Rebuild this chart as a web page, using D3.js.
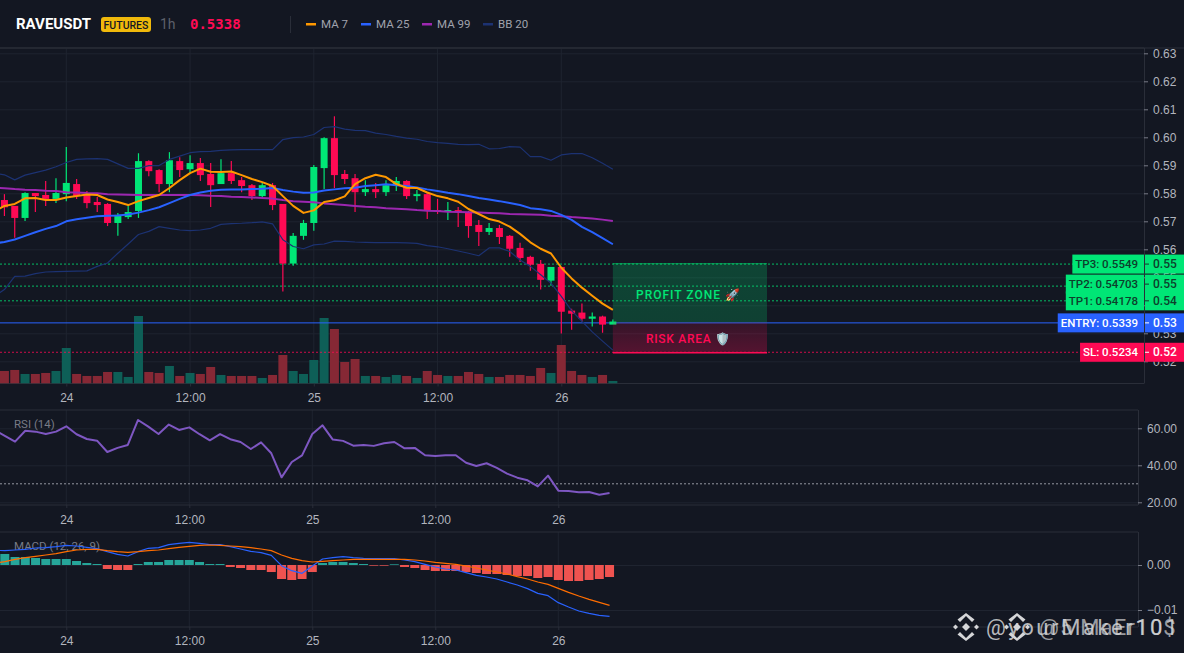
<html>
<head>
<script src="https://d3js.org/d3.v7.min.js"></script>
<style>
  html, body { margin: 0; background: #131722; overflow: hidden; }
  svg { display: block; font-family: Roboto, "Noto Sans", sans-serif; }
  .tick text { fill: #b2b5be; font-size: 12px; font-weight: 500; }
</style>
</head>
<body>
<div id="chartDiv"></div>
<script>
// candles, index 0 is the first one on the left
const candleOpen = [.5776,.5755,.5712,.5801,.5794,.5780,.5797,.5833,.5794,.5769,.5762,.5694,.5715,.5737,.5915,.5883,.5833,.5915,.5886,.5908,.5869,.5833,.5872,.5847,.5829,.5790,.5829,.5762,.5549,.5648,.5694,.5890,.5997,.5869,.5854,.5804,.5815,.5804,.5829,.5844,.5790,.5797,.5740,.5737,.5740,.5733,.5687,.5662,.5676,.5648,.5605,.5573,.5548,.5488,.5537,.5381,.5374,.5352,.5360,.5331];
const candleClose = [.5750,.5712,.5801,.5790,.5780,.5801,.5837,.5790,.5765,.5758,.5694,.5723,.5733,.5915,.5879,.5833,.5918,.5883,.5908,.5865,.5829,.5872,.5844,.5826,.5790,.5829,.5758,.5549,.5648,.5694,.5894,.5997,.5865,.5851,.5804,.5815,.5804,.5829,.5844,.5790,.5797,.5740,.5737,.5740,.5733,.5683,.5662,.5676,.5644,.5602,.5569,.5545,.5491,.5537,.5377,.5370,.5352,.5360,.5331,.5342];
const candleHigh = [.5797,.5755,.5804,.5801,.5844,.5854,.5965,.5851,.5808,.5787,.5765,.5730,.5758,.5943,.5918,.5886,.5947,.5929,.5936,.5926,.5908,.5922,.5915,.5858,.5833,.5837,.5837,.5762,.5658,.5705,.5901,.6000,.6075,.5883,.5869,.5847,.5837,.5847,.5858,.5847,.5812,.5801,.5780,.5769,.5751,.5737,.5705,.5694,.5687,.5651,.5623,.5577,.5562,.5537,.5537,.5388,.5406,.5374,.5363,.5349];
const candleLow = [.5719,.5641,.5701,.5733,.5755,.5765,.5772,.5780,.5747,.5733,.5683,.5648,.5708,.5712,.5861,.5804,.5804,.5858,.5872,.5844,.5751,.5833,.5833,.5804,.5776,.5787,.5740,.5449,.5541,.5634,.5666,.5815,.5819,.5833,.5733,.5790,.5783,.5790,.5808,.5780,.5772,.5708,.5726,.5705,.5680,.5641,.5612,.5651,.5619,.5573,.5555,.5523,.5456,.5470,.5299,.5313,.5342,.5324,.5302,.5335];
const volume = [37,40,28,28,31,37,106,28,22,22,34,34,19,202,34,31,52,22,31,28,49,25,22,22,22,16,25,85,37,28,70,196,163,64,73,22,22,19,25,22,16,37,25,22,22,34,28,19,19,25,25,22,46,31,115,37,25,19,25,7];

// line series start one bar earlier, just off the left edge
const ma7 = [.5734,.5755,.5762,.5782,.5783,.5776,.5776,.5785,.5790,.5796,.5794,.5778,.5769,.5758,.5772,.5783,.5794,.5819,.5847,.5872,.5888,.5877,.5876,.5878,.5865,.5851,.5840,.5826,.5790,.5755,.5730,.5739,.5769,.5775,.5789,.5833,.5854,.5866,.5858,.5833,.5820,.5819,.5803,.5790,.5782,.5770,.5744,.5726,.5708,.5699,.5681,.5655,.5625,.5602,.5585,.5534,.5496,.5463,.5434,.5406,.5384];
const ma25 = [.5621,.5626,.5635,.5648,.5661,.5673,.5683,.5700,.5707,.5713,.5718,.5720,.5721,.5724,.5731,.5740,.5750,.5765,.5780,.5794,.5803,.5809,.5813,.5814,.5814,.5815,.5816,.5819,.5812,.5806,.5802,.5803,.5810,.5814,.5818,.5820,.5826,.5829,.5832,.5829,.5826,.5821,.5814,.5808,.5802,.5797,.5790,.5783,.5778,.5772,.5765,.5758,.5747,.5743,.5737,.5723,.5705,.5680,.5661,.5640,.5618];
const ma99 = [.5820,.5818,.5815,.5813,.5812,.5809,.5808,.5804,.5803,.5801,.5800,.5797,.5796,.5795,.5794,.5794,.5794,.5794,.5794,.5794,.5793,.5791,.5790,.5788,.5787,.5785,.5783,.5781,.5776,.5772,.5770,.5768,.5764,.5761,.5758,.5755,.5752,.5750,.5747,.5745,.5743,.5740,.5738,.5737,.5734,.5733,.5732,.5731,.5730,.5729,.5726,.5725,.5724,.5723,.5720,.5718,.5715,.5713,.5710,.5706,.5701];
const bbUpper = [.5871,.5866,.5848,.5865,.5874,.5883,.5895,.5910,.5921,.5923,.5924,.5921,.5905,.5889,.5889,.5899,.5899,.5921,.5933,.5945,.5949,.5950,.5953,.5955,.5956,.5956,.5956,.5956,.5992,.5999,.6001,.6010,.6035,.6038,.6029,.6025,.6024,.6015,.6010,.6003,.5997,.5993,.5985,.5981,.5978,.5975,.5974,.5975,.5959,.5960,.5967,.5965,.5931,.5931,.5918,.5937,.5942,.5942,.5927,.5907,.5886];
const bbLower = [.5432,.5456,.5503,.5504,.5513,.5519,.5520,.5521,.5522,.5523,.5539,.5551,.5586,.5619,.5653,.5664,.5681,.5675,.5669,.5667,.5669,.5675,.5689,.5692,.5693,.5695,.5698,.5691,.5634,.5610,.5602,.5616,.5619,.5629,.5628,.5626,.5625,.5624,.5624,.5624,.5623,.5621,.5613,.5609,.5602,.5594,.5586,.5577,.5605,.5605,.5592,.5562,.5539,.5509,.5479,.5432,.5381,.5343,.5305,.5272,.5240];
const rsi = [59.1,55.9,52.8,58.7,58.2,56.9,58.2,61.1,56.8,54.2,53.3,47.2,49.4,51.0,64.5,60.9,56.9,62.0,59.1,60.5,56.8,53.5,56.9,54.1,52.6,48.8,52.4,46.5,33.5,41.8,45.4,56.9,61.6,53.9,53.2,50.6,51.0,50.5,51.9,52.6,49.2,49.4,45.4,45.0,45.4,45.4,41.4,39.6,41.1,38.6,35.5,33.3,31.9,28.6,34.4,26.3,26.1,25.4,25.6,24.1,25.0];
const macdLine = [.00326,.00319,.00333,.00348,.00378,.00385,.00408,.00437,.00422,.00393,.00363,.00296,.00237,.00200,.00296,.00371,.00385,.00452,.00482,.00504,.00482,.00452,.00452,.00408,.00356,.00304,.00274,.00215,-.00015,-.00126,-.00185,-.00022,.00133,.00163,.00185,.00163,.00148,.00141,.00141,.00141,.00111,.00074,.00015,-.00044,-.00089,-.00111,-.00170,-.00230,-.00267,-.00311,-.00378,-.00445,-.00526,-.00630,-.00682,-.00837,-.00934,-.01023,-.01074,-.01119,-.01141];
const macdSignal = [.00037,.00074,.00126,.00163,.00193,.00222,.00252,.00296,.00333,.00348,.00348,.00319,.00296,.00282,.00296,.00319,.00333,.00363,.00393,.00415,.00437,.00445,.00437,.00422,.00408,.00385,.00356,.00319,.00222,.00148,.00096,.00067,.00082,.00096,.00111,.00126,.00126,.00126,.00126,.00126,.00126,.00111,.00089,.00059,.00037,.00015,-.00022,-.00067,-.00111,-.00156,-.00200,-.00259,-.00311,-.00378,-.00430,-.00519,-.00608,-.00689,-.00763,-.00830,-.00897];
const macdHist = [.00245,.00178,.00178,.00156,.00133,.00133,.00133,.00089,.00044,.00022,-.00089,-.00111,-.00111,.00022,.00067,.00067,.00111,.00111,.00111,.00067,.00022,.00022,-.00044,-.00067,-.00111,-.00111,-.00156,-.00311,-.00333,-.00311,-.00156,.00044,.00067,.00067,.00044,.00022,-.00015,-.00015,.00015,-.00044,-.00067,-.00111,-.00133,-.00133,-.00133,-.00156,-.00178,-.00200,-.00200,-.00222,-.00245,-.00245,-.00289,-.00267,-.00333,-.00356,-.00356,-.00333,-.00311,-.00267];

const timeTicks = [6, 18, 30, 42, 54];
const timeLabels = ["24", "12:00", "25", "12:00", "26"];
const priceTicks = [.63, .62, .61, .60, .59, .58, .57, .56, .55, .54, .53, .52];
const rsiTicks = [60, 40, 20];
const macdTicks = [0, -.01];

const levelNames = ["TP3", "TP2", "TP1", "ENTRY", "SL"];
const levelPrices = [.5549, .54703, .54178, .5339, .5234];
const levelText = ["0.5549", "0.54703", "0.54178", "0.5339", "0.5234"];
const levelAxis = ["0.55", "0.55", "0.54", "0.53", "0.52"];
const legendNames = ["MA 7", "MA 25", "MA 99", "BB 20"];

const UP = "#00e676", DOWN = "#ff0a54", GRID = "#1f2430", AXIS = "#2a2e39";
const BLUE = "#2962ff", ORANGE = "#ff9800", PURPLE = "#9c27b0", NAVY = "#1c3272";
const legendColors = [ORANGE, BLUE, PURPLE, NAVY];

const W = 1184, H = 653;
const svg = d3.select("#chartDiv").append("svg").attr("width", W).attr("height", H);

svg.append("rect").attr("width", W).attr("height", H).attr("fill", "#131722");

// main panel and the two lower panels have slightly different bar widths
const x = d3.scaleLinear().domain([6, 54]).range([66.3, 561.3]);
const xLow = d3.scaleLinear().domain([6, 54]).range([66.3, 558.3]);
const y = d3.scaleLinear().domain([.63, .52]).range([53.3, 361.3]);
const yVol = d3.scaleLinear().domain([0, 202]).range([383.3, 316]);
const yRsi = d3.scaleLinear().domain([60, 20]).range([428.3, 502.3]);
const yMacd = d3.scaleLinear().domain([0, -.01]).range([565, 610]);

svg.append("line").attr("x1", 0).attr("x2", W).attr("y1", 48).attr("y2", 48).attr("stroke", AXIS);

// panel frame: horizontal grid, vertical grid, time axis, value axis
function panel(top, bottom, right, xs, ys, ticks, fmt, labelY) {
  const g = svg.append("g");
  g.selectAll("line.h").data(ticks).enter().append("line")
    .attr("x1", 0).attr("x2", right)
    .attr("y1", d => ys(d) + .5).attr("y2", d => ys(d) + .5)
    .attr("stroke", GRID);
  g.selectAll("line.v").data(timeTicks).enter().append("line")
    .attr("x1", d => xs(d)).attr("x2", d => xs(d))
    .attr("y1", top).attr("y2", bottom)
    .attr("stroke", GRID);
  g.append("line").attr("x1", 0).attr("x2", right).attr("y1", top).attr("y2", top).attr("stroke", AXIS);
  g.append("line").attr("x1", 0).attr("x2", right).attr("y1", bottom).attr("y2", bottom).attr("stroke", AXIS);
  g.append("line").attr("x1", right + .5).attr("x2", right + .5).attr("y1", top).attr("y2", bottom).attr("stroke", AXIS);

  const xa = svg.append("g").attr("transform", "translate(0," + bottom + ")")
    .call(d3.axisBottom(xs).tickValues(timeTicks).tickFormat((d, i) => timeLabels[i]).tickSize(3).tickPadding(labelY - bottom - 9));
  xa.select(".domain").remove();
  xa.selectAll("line").attr("stroke", AXIS);

  const ya = svg.append("g").attr("transform", "translate(" + right + ",0)")
    .call(d3.axisRight(ys).tickValues(ticks).tickFormat(fmt).tickSize(4).tickPadding(5));
  ya.select(".domain").remove();
  ya.selectAll("line").attr("stroke", "#787b86");
}

panel(48, 383.5, 1144, x, y, priceTicks, d3.format(".2f"), 399);
panel(410, 505, 1138, xLow, yRsi, rsiTicks, d3.format(".2f"), 521);
panel(532, 627, 1138, xLow, yMacd, macdTicks, d3.format(".2f"), 642);

// volume
svg.append("g").selectAll("rect").data(volume).enter().append("rect")
  .attr("x", (d, i) => x(i) - 4.5)
  .attr("y", d => yVol(d))
  .attr("width", 9)
  .attr("height", d => yVol(0) - yVol(d))
  .attr("fill", (d, i) => candleClose[i] >= candleOpen[i] ? "#0e5f57" : "#862835");

// level lines
const levelColor = ["#00e676", "#00e676", "#00e676", BLUE, "#ff0a54"];
svg.append("g").selectAll("line").data(levelPrices).enter().append("line")
  .attr("x1", 0).attr("x2", 1120)
  .attr("y1", d => y(d) + .5).attr("y2", d => y(d) + .5)
  .attr("stroke", (d, i) => levelColor[i])
  .attr("stroke-dasharray", (d, i) => i == 3 ? null : "2,2")
  .attr("stroke-opacity", (d, i) => i == 3 ? 1 : .8);

// candles
const candles = svg.append("g");
candles.selectAll("line").data(candleOpen).enter().append("line")
  .attr("x1", (d, i) => x(i)).attr("x2", (d, i) => x(i))
  .attr("y1", (d, i) => y(candleHigh[i])).attr("y2", (d, i) => y(candleLow[i]))
  .attr("stroke", (d, i) => candleClose[i] >= d ? UP : DOWN)
  .attr("stroke-width", 1.2);
candles.selectAll("rect").data(candleOpen).enter().append("rect")
  .attr("x", (d, i) => x(i) - 3.5)
  .attr("y", (d, i) => y(Math.max(d, candleClose[i])))
  .attr("width", 7)
  .attr("height", (d, i) => Math.max(1.2, Math.abs(y(d) - y(candleClose[i]))))
  .attr("fill", (d, i) => candleClose[i] >= d ? UP : DOWN);

// overlays
function drawLine(vals, xs, ys, color, w) {
  svg.append("path").datum(vals)
    .attr("fill", "none").attr("stroke", color).attr("stroke-width", w)
    .attr("stroke-linejoin", "round")
    .attr("d", d3.line().x((d, i) => xs(i - 1)).y(d => ys(d)));
}
drawLine(bbUpper, x, y, NAVY, 1.2);
drawLine(bbLower, x, y, NAVY, 1.2);
drawLine(ma99, x, y, PURPLE, 2);
drawLine(ma25, x, y, BLUE, 2);
drawLine(ma7, x, y, ORANGE, 2);

// profit / risk boxes
const defs = svg.append("defs");
const grad = (id, c1, o1, c2, o2) => {
  const g = defs.append("linearGradient").attr("id", id).attr("x1", 0).attr("x2", 0).attr("y1", 0).attr("y2", 1);
  g.append("stop").attr("offset", "0%").attr("stop-color", c1).attr("stop-opacity", o1);
  g.append("stop").attr("offset", "100%").attr("stop-color", c2).attr("stop-opacity", o2);
};
grad("profitFill", "#00e676", .22, "#00e676", .2);
grad("riskFill", "#ff0a54", .14, "#ff0a54", .28);
const zoneLeft = x(59), zoneRight = 767;
svg.append("rect").attr("x", zoneLeft).attr("width", zoneRight - zoneLeft)
  .attr("y", y(levelPrices[0])).attr("height", y(levelPrices[3]) - y(levelPrices[0]))
  .attr("fill", "url(#profitFill)");
svg.append("rect").attr("x", zoneLeft).attr("width", zoneRight - zoneLeft)
  .attr("y", y(levelPrices[3])).attr("height", y(levelPrices[4]) - y(levelPrices[3]) + 1)
  .attr("fill", "url(#riskFill)");
svg.append("line").attr("x1", zoneLeft).attr("x2", zoneRight)
  .attr("y1", y(levelPrices[0])).attr("y2", y(levelPrices[0])).attr("stroke", "#00e676").attr("stroke-opacity", .5);
svg.append("line").attr("x1", zoneLeft).attr("x2", zoneRight)
  .attr("y1", y(levelPrices[4]) + 1).attr("y2", y(levelPrices[4]) + 1).attr("stroke", "#ff0a54").attr("stroke-width", 1.5);
svg.append("text").attr("x", 636).attr("y", 299).text("PROFIT ZONE 🚀")
  .attr("fill", "#00e676").attr("font-size", 12).attr("font-weight", 500).attr("letter-spacing", 1);
svg.append("text").attr("x", 646).attr("y", 343).text("RISK AREA 🛡️")
  .attr("fill", "#ff0a54").attr("font-size", 12).attr("font-weight", 500).attr("letter-spacing", .7);

// price labels on the axis
const labelFill = ["#00e676", "#00e676", "#00e676", BLUE, "#ff0a54"];
const labelInk = ["#0d3f2c", "#0d3f2c", "#0d3f2c", "#fff", "#fff"];
levelPrices.forEach((p, i) => {
  const cy = y(p) - (levelNames[i] == "TP2" ? 2 : 0) + .5;
  const txt = svg.append("text").attr("x", 1138).attr("y", cy + 4).attr("text-anchor", "end")
    .attr("font-size", 11.5).attr("font-weight", 500).attr("fill", labelInk[i])
    .text(levelNames[i] + ": " + levelText[i]);
  const w = txt.node().getComputedTextLength() + 9;
  svg.insert("rect", function () { return txt.node(); })
    .attr("x", 1144 - w).attr("y", cy - 9.5).attr("width", w).attr("height", 19).attr("fill", labelFill[i]);
  svg.append("rect").attr("x", 1145).attr("y", cy - 9.5).attr("width", 39).attr("height", 19).attr("fill", labelFill[i]);
  svg.append("line").attr("x1", 1145).attr("x2", 1149).attr("y1", cy).attr("y2", cy).attr("stroke", labelInk[i]);
  svg.append("text").attr("x", 1153).attr("y", cy + 4).attr("font-size", 12).attr("font-weight", 500)
    .attr("fill", labelInk[i]).text(levelAxis[i]);
});

// RSI
svg.append("line").attr("x1", 0).attr("x2", 1138).attr("y1", yRsi(30)).attr("y2", yRsi(30))
  .attr("stroke", "#9598a1").attr("stroke-dasharray", "2,2");
drawLine(rsi, xLow, yRsi, "#7e57c2", 2);
svg.append("text").attr("x", 14).attr("y", 428).text("RSI (14)").attr("fill", "#787b86").attr("font-size", 11.5);

// MACD
svg.append("g").selectAll("rect").data(macdHist).enter().append("rect")
  .attr("x", (d, i) => xLow(i) - 4.5)
  .attr("y", d => yMacd(Math.max(d, 0)))
  .attr("width", 9)
  .attr("height", d => Math.abs(yMacd(d) - yMacd(0)))
  .attr("fill", d => d >= 0 ? "#26a69a" : "#ef5350");
svg.append("text").attr("x", 14).attr("y", 550).text("MACD (12, 26, 9)").attr("fill", "#787b86").attr("font-size", 11.5);
drawLine(macdLine, xLow, yMacd, BLUE, 1.2);
drawLine(macdSignal, xLow, yMacd, "#ff6d00", 1.2);

// header
svg.append("text").attr("x", 16).attr("y", 29).text("RAVEUSDT").attr("fill", "#fff")
  .attr("font-size", 15).attr("font-weight", 700);
svg.append("rect").attr("x", 101).attr("y", 17).attr("width", 50).attr("height", 15).attr("rx", 3).attr("fill", "#f0b90b");
svg.append("text").attr("x", 126).attr("y", 28.5).attr("text-anchor", "middle").text("FUTURES")
  .attr("fill", "#131722").attr("font-size", 10.5).attr("font-weight", 500);
svg.append("text").attr("x", 160).attr("y", 29).text("1h").attr("fill", "#5d606b").attr("font-size", 14);
svg.append("text").attr("x", 190).attr("y", 29).text("0.5338").attr("fill", "#ff0a54")
  .attr("font-size", 14).attr("font-weight", 700).attr("font-family", "'DejaVu Sans Mono', monospace");
svg.append("line").attr("x1", 290.5).attr("x2", 290.5).attr("y1", 16).attr("y2", 33).attr("stroke", AXIS);
const legendX = [306, 361, 422, 483];
legendNames.forEach((n, i) => {
  svg.append("rect").attr("x", legendX[i]).attr("y", 23).attr("width", 10).attr("height", 2.5).attr("fill", legendColors[i]);
  svg.append("text").attr("x", legendX[i] + 15).attr("y", 28).text(n).attr("fill", "#a0a3ad").attr("font-size", 11.5);
});

// watermark
function binanceMark(cx, cy) {
  const g = svg.append("g").attr("transform", "translate(" + cx + "," + cy + ")").attr("fill", "#d5d6d8");
  const d = (px, py, r) => g.append("path").attr("d", "M" + (px - r) + "," + py + "L" + px + "," + (py - r) + "L" + (px + r) + "," + py + "L" + px + "," + (py + r) + "Z");
  d(0, 0, 4); d(-10.5, 0, 2.5); d(10.5, 0, 2.5);
  g.append("path").attr("d", "M-6,-5 L0,-11 L6,-5 L8.5,-7.5 L0,-14 L-8.5,-7.5Z");
  g.append("path").attr("d", "M-6,5 L0,11 L6,5 L8.5,7.5 L0,14 L-8.5,7.5Z");
}
binanceMark(966, 627);
binanceMark(1017, 627);
svg.append("text").attr("x", 986).attr("y", 635).text("@yourMaker101")
  .attr("fill", "#d5d6d8").attr("fill-opacity", .85).attr("font-size", 22).attr("letter-spacing", 2.6);
svg.append("text").attr("x", 1039).attr("y", 635).text("@5 MaEr10$")
  .attr("fill", "#d5d6d8").attr("fill-opacity", .7).attr("font-size", 22).attr("letter-spacing", 1.2);
</script>
</body>
</html>
